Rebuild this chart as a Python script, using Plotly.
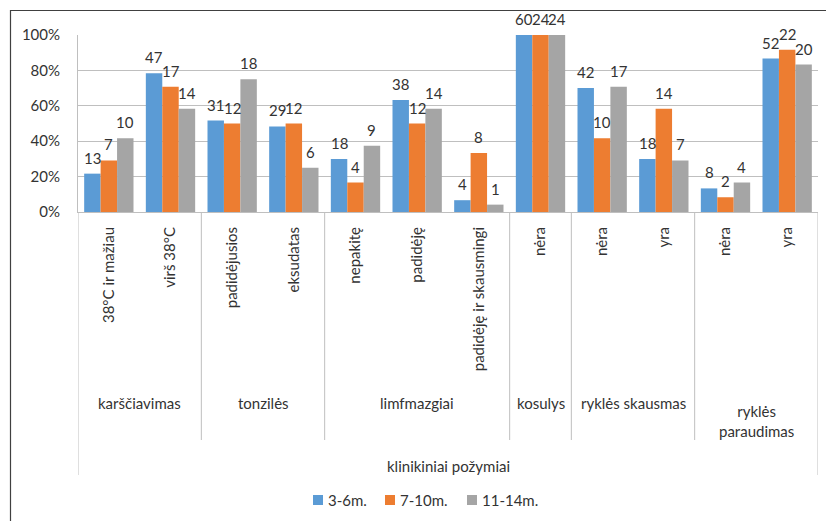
import plotly.graph_objects as go

# Clinical signs grouped by feature, counts of children per age group
groups = ["karščiavimas", "tonzilės", "limfmazgiai", "kosulys", "ryklės skausmas", "ryklės<br>paraudimas"]
group_sizes = [2, 2, 3, 1, 2, 2]
subcategories = [
    "38°C ir mažiau", "virš 38°C",
    "padidėjusios", "eksudatas",
    "nepakitę", "padidėję", "padidėję ir skausmingi",
    "nėra",
    "nėra", "yra",
    "nėra", "yra",
]
series_names = ["3-6m.", "7-10m.", "11-14m."]
series_totals = [60, 24, 24]
counts_3_6 = [13, 47, 31, 29, 18, 38, 4, 60, 42, 18, 8, 52]
counts_7_10 = [7, 17, 12, 12, 4, 12, 8, 24, 10, 14, 2, 22]
counts_11_14 = [10, 14, 18, 6, 9, 14, 1, 24, 17, 7, 4, 20]
colors = ["#5B9BD5", "#ED7D31", "#A5A5A5"]
axis_title = "klinikiniai požymiai"

W, H = 826, 521
L, R, T, B = 78, 818, 35, 212
FONT = "Lato"
TXT = "#333333"
GRID = "#BFBFBF"
BARGAP = 0.2
LEGEND_SWATCH_LEFT = [313, 385, 467]   # px, left edge of each legend square
LEGEND_Y = 500


def px_x(p):
    return (p - L) / (R - L)


def px_y(p):
    return (B - p) / (B - T)


xs = list(range(len(subcategories)))
n_series = len(series_names)
bar_w = (1 - BARGAP) / n_series

fig = go.Figure()
annotations = []
all_counts = [counts_3_6, counts_7_10, counts_11_14]
for k, (name, counts, total, col) in enumerate(zip(series_names, all_counts, series_totals, colors)):
    shares = [c / total for c in counts]
    fig.add_trace(go.Bar(
        x=xs, y=shares, name=name,
        marker=dict(color=col, line=dict(width=0)),
        hoverinfo="skip", showlegend=False,
    ))
    # count labels above each bar
    offset = (k - (n_series - 1) / 2) * bar_w
    for xi, v, c in zip(xs, shares, counts):
        annotations.append(dict(
            text=str(c), x=xi + offset, y=v, xref="x", yref="y",
            xanchor="center", yanchor="bottom", yshift=5, showarrow=False,
            font=dict(family=FONT, size=15, color=TXT),
        ))

shapes = []
# group separators below the category axis
bounds = [-0.5]
for s in group_sizes:
    bounds.append(bounds[-1] + s)
for i, b in enumerate(bounds):
    outer = i == 0 or i == len(bounds) - 1
    shapes.append(dict(type="line", xref="x", yref="paper", x0=b, x1=b,
                       y0=0, y1=px_y(475 if outer else 440),
                       line=dict(color=GRID, width=1)))
# chart frame (top and left edges)
shapes.append(dict(type="line", xref="paper", yref="paper",
                   x0=px_x(10), x1=px_x(W + 2), y0=px_y(10.5), y1=px_y(10.5),
                   line=dict(color="#404040", width=1.2)))
shapes.append(dict(type="line", xref="paper", yref="paper",
                   x0=px_x(10.5), x1=px_x(10.5), y0=px_y(10), y1=px_y(H + 2),
                   line=dict(color="#404040", width=1.2)))

for g, lo, hi in zip(groups, bounds[:-1], bounds[1:]):
    two = "<br>" in g
    annotations.append(dict(
        text=g, x=(lo + hi) / 2, xref="x", yref="paper",
        y=px_y(421 if two else 403), yanchor="middle", xanchor="center",
        showarrow=False, font=dict(family=FONT, size=15, color=TXT),
    ))
annotations.append(dict(
    text=axis_title, x=0.5, xref="paper", yref="paper", y=px_y(466),
    yanchor="middle", xanchor="center", showarrow=False,
    font=dict(family=FONT, size=15, color=TXT),
))

# legend: small squares followed by the series names
for name, col, left in zip(series_names, colors, LEGEND_SWATCH_LEFT):
    shapes.append(dict(type="rect", xref="paper", yref="paper",
                       x0=px_x(left), x1=px_x(left + 10),
                       y0=px_y(LEGEND_Y + 5), y1=px_y(LEGEND_Y - 5),
                       fillcolor=col, line=dict(width=0)))
    annotations.append(dict(
        text=name, x=px_x(left + 13), y=px_y(LEGEND_Y), xref="paper", yref="paper",
        xanchor="left", yanchor="middle", showarrow=False,
        font=dict(family=FONT, size=15, color=TXT),
    ))

fig.update_layout(
    width=W, height=H,
    margin=dict(l=L, r=W - R, t=T, b=H - B, pad=0),
    paper_bgcolor="white", plot_bgcolor="white",
    barmode="group", bargap=BARGAP, bargroupgap=0,
    font=dict(family=FONT, size=15, color=TXT),
    shapes=shapes, annotations=annotations,
    showlegend=False,
    xaxis=dict(
        range=[-0.5, len(subcategories) - 0.5],
        tickmode="array", tickvals=xs, ticktext=subcategories,
        tickangle=-90, ticks="", ticklabelstandoff=8,
        showline=True, linecolor=GRID, linewidth=1,
        showgrid=False, zeroline=False,
        tickfont=dict(family=FONT, size=15, color=TXT),
    ),
    yaxis=dict(
        range=[0, 1], dtick=0.2, tickformat=".0%",
        showgrid=True, gridcolor=GRID, gridwidth=1,
        showline=True, linecolor=GRID, linewidth=1,
        zeroline=False, ticks="", ticklabelstandoff=14,
        tickfont=dict(family=FONT, size=15, color=TXT),
    ),
)

fig.write_html("out.html")
